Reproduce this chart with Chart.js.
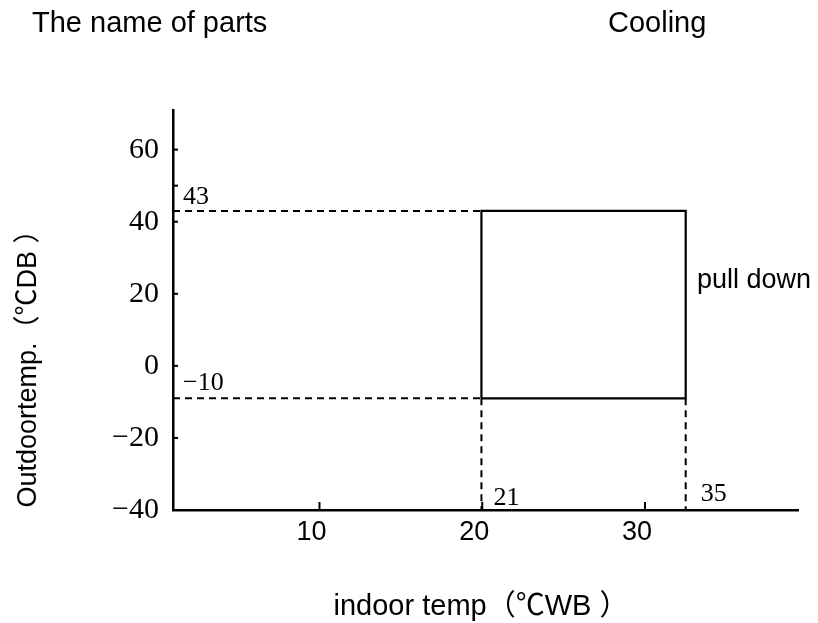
<!DOCTYPE html>
<html>
<head>
<meta charset="utf-8">
<script src="https://cdn.jsdelivr.net/npm/chart.js@4"></script>
<style>
html, body { margin: 0; padding: 0; background: #fff; }
</style>
</head>
<body>
<canvas id="chart" width="818" height="623"></canvas>
<script>
// axis ticks
const xTicks = [10, 20, 30];
const yTicks = [-40, -20, 0, 20, 40, 50, 60];
const yTickLabels = ['−40', '−20', '0', '20', '40', '', '60'];
const xRange = [1, 39.4];
const yRange = [-40, 71];

// operating box (drawn where it sits on the sheet, labels are what the sheet says)
const boxX = [19.95, 32.5];
const boxY = [-9, 43];
const boxXLabels = ['21', '35'];
const boxYLabels = ['−10', '43'];

const sans = '"Liberation Sans", Arial, "Noto Sans CJK SC", sans-serif';
const serif = '"Liberation Serif", "Times New Roman", serif';

function pts(xs, ys) {
    return xs.map((x, i) => ({ x: x, y: ys[i] }));
}

const solid = { borderColor: '#000', borderWidth: 2.2, pointRadius: 0, showLine: true, fill: false, tension: 0 };
const dashed = Object.assign({}, solid, { borderWidth: 2, borderDash: [7, 5] });

const datasets = [
    Object.assign({ data: pts([boxX[0], boxX[0], boxX[1], boxX[1], boxX[0]], [boxY[0], boxY[1], boxY[1], boxY[0], boxY[0]]) }, solid),
    Object.assign({ data: pts([xRange[0], boxX[0]], [boxY[1], boxY[1]]) }, dashed),
    Object.assign({ data: pts([xRange[0], boxX[0]], [boxY[0], boxY[0]]) }, dashed),
    Object.assign({ data: pts([boxX[0], boxX[0]], [boxY[0], yRange[0]]) }, dashed),
    Object.assign({ data: pts([boxX[1], boxX[1]], [boxY[0], yRange[0]]) }, dashed)
];

// inward tick marks + all the loose text on the sheet
const sheetText = {
    id: 'sheetText',
    afterDraw(chart) {
        const ctx = chart.ctx;
        const xs = chart.scales.x, ys = chart.scales.y;
        const a = chart.chartArea;
        ctx.save();
        ctx.strokeStyle = '#000';
        ctx.lineWidth = 2;
        yTicks.forEach(v => {
            const py = ys.getPixelForValue(v);
            ctx.beginPath(); ctx.moveTo(a.left, py); ctx.lineTo(a.left + 5, py); ctx.stroke();
        });
        xTicks.forEach(v => {
            const px = xs.getPixelForValue(v);
            ctx.beginPath(); ctx.moveTo(px, a.bottom); ctx.lineTo(px, a.bottom - 8); ctx.stroke();
        });

        ctx.fillStyle = '#000';
        ctx.textBaseline = 'alphabetic';
        ctx.textAlign = 'left';
        ctx.font = '29px ' + sans;
        ctx.fillText('The name of parts', 32, 32);
        ctx.fillText('Cooling', 608, 32);
        ctx.font = '27px ' + sans;
        ctx.fillText('pull down', 697, 288);

        ctx.font = '26px ' + serif;
        ctx.fillText(boxYLabels[1], a.left + 10, ys.getPixelForValue(boxY[1]) - 7);
        ctx.fillText(boxYLabels[0], a.left + 10, ys.getPixelForValue(boxY[0]) - 8);
        ctx.fillText(boxXLabels[0], xs.getPixelForValue(boxX[0]) + 12, a.bottom - 5);
        ctx.fillText(boxXLabels[1], xs.getPixelForValue(boxX[1]) + 15, a.bottom - 9);

        ctx.font = '29px ' + sans;
        ctx.textAlign = 'center';
        ctx.fillText('indoor temp（℃WB ）', 481, 615);
        ctx.font = '27px ' + sans;
        ctx.translate(36, 362);
        ctx.rotate(-Math.PI / 2);
        ctx.fillText('Outdoortemp.（℃DB ）', 0, 0);
        ctx.restore();
    }
};

new Chart(document.getElementById('chart').getContext('2d'), {
    type: 'scatter',
    data: { datasets: datasets },
    plugins: [sheetText],
    options: {
        responsive: false,
        animation: false,
        layout: { padding: { top: 110, right: 20, left: 0, bottom: 0 } },
        plugins: { legend: { display: false }, tooltip: { enabled: false } },
        scales: {
            x: {
                type: 'linear',
                min: xRange[0],
                max: xRange[1],
                afterBuildTicks: s => { s.ticks = xTicks.map(v => ({ value: v })); },
                afterFit: s => { s.height = 113; },
                grid: { display: false, drawTicks: false },
                border: { display: true, color: '#000', width: 2.5 },
                ticks: {
                    color: '#000', padding: 6, labelOffset: -8, maxRotation: 0, autoSkip: false,
                    font: { family: sans, size: 27 },
                    callback: v => String(v)
                }
            },
            y: {
                type: 'linear',
                min: yRange[0],
                max: yRange[1],
                afterBuildTicks: s => { s.ticks = yTicks.map(v => ({ value: v })); },
                afterFit: s => { s.width = 173; },
                grid: { display: false, drawTicks: false },
                border: { display: true, color: '#000', width: 2.5 },
                ticks: {
                    color: '#000', padding: 14, autoSkip: false,
                    font: { family: serif, size: 30 },
                    callback: v => yTickLabels[yTicks.indexOf(v)]
                }
            }
        }
    }
});
</script>
</body>
</html>
